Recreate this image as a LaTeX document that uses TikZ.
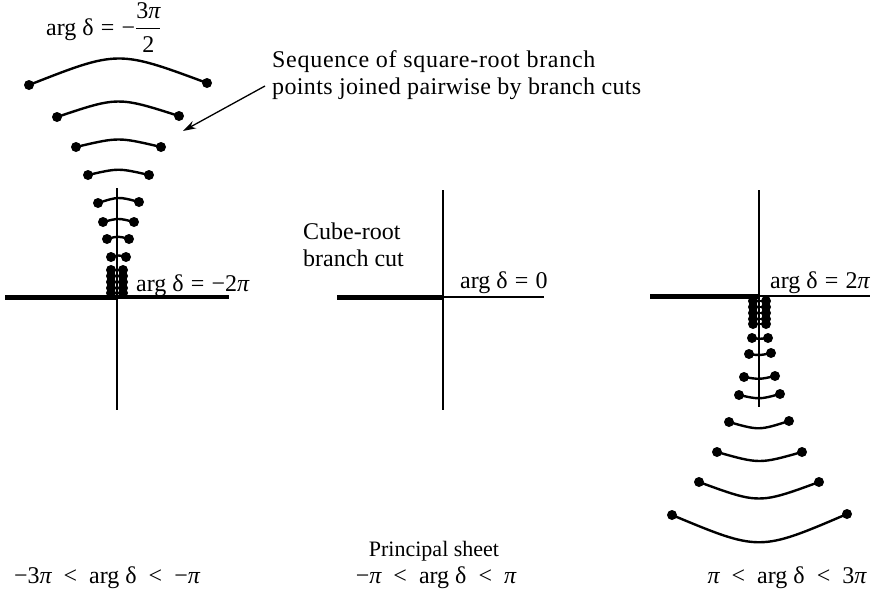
\documentclass[tikz,border=0pt]{standalone}
\usepackage{amsmath}
\usepackage{fontspec}
\setmainfont{Liberation Serif}
\usetikzlibrary{arrows.meta}
\newcommand{\ppi}{{\itshape π}}
\newcommand{\rsp}{\hspace{0.5em}}
\newcommand{\esp}{\hspace{0.3em}}
\begin{document}
\begin{tikzpicture}[x=1pt,y=-1pt,
  axis/.style={line width=2.6pt},
  cutline/.style={line width=5pt},
  cutarc/.style={line width=2.4pt},
  bpt/.style={circle,fill=black,inner sep=0pt,minimum size=10pt},
  lbl/.style={inner sep=0pt,font=\fontsize{24}{27}\selectfont},
  every node/.style={lbl}]
\useasboundingbox (0,0) rectangle (874,589);

% ---------- left sheet: -3pi < arg < -pi ----------
\draw[cutline] (5,297) -- (117,297);
\draw[line width=4pt] (117,297) -- (229,297);
\draw[axis] (117,188) -- (117,410);
% branch-cut arcs, bulging upward
\foreach \xa/\xb/\ya/\yb/\s [count=\i] in
   {29/207/85/83/17, 57/179/117/116/10, 76/161/147/147/5, 88/149/175/175/3.5,
    98/139/203/202/3, 103/134/222/222/2, 107/129/239/239/1.5, 111/126/257/257/1}{
  \node[bpt] (L\i a) at (\xa,\ya) {};
  \node[bpt] (L\i b) at (\xb,\yb) {};
  \draw[cutarc] (L\i a.center) .. controls ({(\xa+\xb)/2},{(\ya+\yb)/2-2*\s}) .. (L\i b.center);
}
% pairs accumulating at the origin
\foreach \yy [count=\i] in {270,276,282,288,293}{
  \node[bpt] (LCa\i) at (111,\yy) {};
  \node[bpt] (LCb\i) at (123,\yy) {};
  \draw[cutarc] (LCa\i.center) -- (LCb\i.center);
}
\node[anchor=base west] (lm2) at (136,291) {arg δ\esp=\esp−2\ppi};
\node[anchor=base west] (ltop) at (46,35) {arg δ\esp=\esp−$\dfrac{\text{3\ppi}}{\text{2}}$};

% annotation
\node[anchor=base west,align=left] (seq) at (272,94)
  {\addfontfeature{LetterSpace=3}Sequence of square-root branch\\
   \addfontfeature{LetterSpace=1.5}points joined pairwise by branch cuts};
\coordinate (tip) at (183,131);
\draw[line width=1.3pt,-{Stealth[length=13pt,width=8pt]}] (265,86) -- (tip);

% ---------- principal sheet ----------
\draw[cutline] (337,297) -- (443,297);
\draw[axis] (443,297) -- (544,297);
\draw[axis] (443,190) -- (443,410);
\node[anchor=base west,align=left] (cube) at (303,266) {Cube-root\\branch cut};
\node[anchor=base west] (m0) at (460,288) {arg δ\esp=\esp0};

% ---------- right sheet: pi < arg < 3pi ----------
\draw[cutline] (650,296) -- (759,296);
\draw[axis] (759,296) -- (870,296);
\draw[axis] (759,190) -- (759,407);
\foreach \xa/\xb/\ya/\yb/\s [count=\i] in
   {752/768/338/338/0.5, 749/771/354/353/1, 744/775/377/376/1.5, 739/780/395/394/2.5,
    729/789/422/421/4.5, 717/802/452/452/6, 699/819/482/482/11, 672/847/515/514/18.5}{
  \node[bpt] (R\i a) at (\xa,\ya) {};
  \node[bpt] (R\i b) at (\xb,\yb) {};
  \draw[cutarc] (R\i a.center) .. controls ({(\xa+\xb)/2},{(\ya+\yb)/2+2*\s}) .. (R\i b.center);
}
\foreach \yy [count=\i] in {301,307,313,319,324}{
  \node[bpt] (RCa\i) at (753,\yy) {};
  \node[bpt] (RCb\i) at (766,\yy) {};
  \draw[cutarc] (RCa\i.center) -- (RCb\i.center);
}
\node[anchor=base west] (r2) at (770,288) {arg δ\esp=\esp2\ppi};

% ---------- sheet labels ----------
\node[anchor=base] (bl) at (107,583) {−3\ppi\rsp<\rsp arg δ\rsp<\rsp−\ppi};
\node[anchor=base,font=\fontsize{22}{26}\selectfont] (ps) at (434,556) {Principal sheet};
\node[anchor=base] (bm) at (436,583) {−\ppi\rsp<\rsp arg δ\rsp<\rsp\ppi};
\node[anchor=base] (br) at (787,583) {\ppi\rsp<\rsp arg δ\rsp<\rsp3\ppi};
\end{tikzpicture}
\end{document}
